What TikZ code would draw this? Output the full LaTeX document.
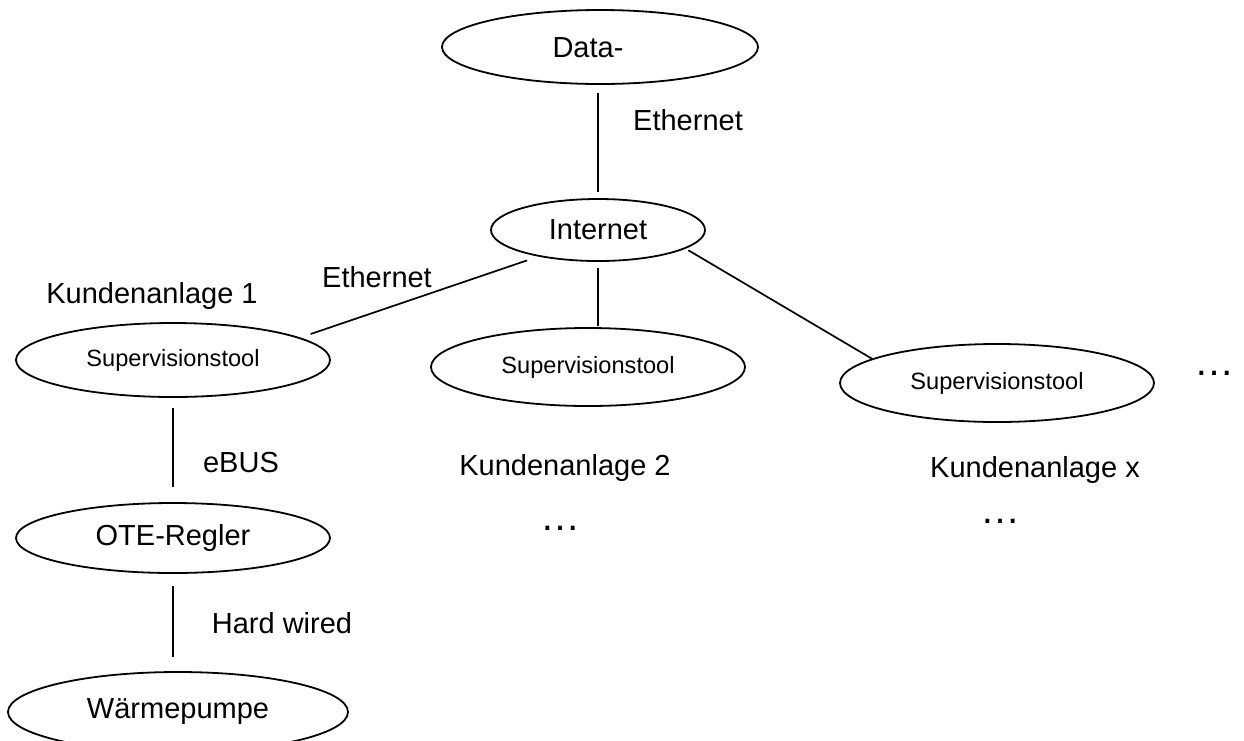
\documentclass[tikz,border=0pt]{standalone}
\usepackage{fontspec}
\setmainfont{Liberation Sans}
\usetikzlibrary{shapes.geometric}
\begin{document}
\begin{tikzpicture}[x=1pt,y=-1pt,
  bubble/.style={ellipse, draw, line width=1.8pt, inner sep=0pt, font=\fontsize{29}{34}\selectfont},
  small/.style={font=\fontsize{23.6}{28}\selectfont},
  lbl/.style={inner sep=0pt, anchor=base, font=\fontsize{29}{34}\selectfont},
  dots/.style={inner sep=0pt, anchor=base, font=\fontsize{40}{44}\selectfont},
  wire/.style={line width=1.7pt}]
\clip (0,0) rectangle (1244,740);
% ellipses
\node[bubble, minimum width=316pt, minimum height=74pt] (data) at (600,47) {};
\node[lbl] (datatxt) at (588,57) {Data-};
\node[bubble, minimum width=214pt, minimum height=62pt] (internet) at (598,230) {Internet};
\node[bubble, small, minimum width=314pt, minimum height=74pt] (sup1) at (173,360) {Supervisionstool};
\node[bubble, small, minimum width=314pt, minimum height=78pt] (sup2) at (588,367) {Supervisionstool};
\node[bubble, small, minimum width=314pt, minimum height=78pt] (sup3) at (997,383) {Supervisionstool};
\node[bubble, minimum width=314pt, minimum height=70pt] (ote) at (173,538) {OTE-Regler};
\node[bubble, minimum width=340pt, minimum height=80pt] (wp) at (178,712) {Wärmepumpe};
% connectors
\draw[wire, shorten <=8pt, shorten >=6pt] (data.south -| internet.north) -- (internet.north);
\draw[wire, shorten <=11.8pt, shorten >=11pt] (internet.204.8) -- (sup1.10.2);
\draw[wire, shorten <=6pt, shorten >=1pt] (internet.south) -- (internet.south |- sup2.north);
\draw[wire, shorten <=3.2pt] (internet.-12) -- (sup3.169.3);
\draw[wire, shorten <=10pt, shorten >=15pt] (sup1.south) -- (ote.north);
\draw[wire, shorten <=12pt, shorten >=14pt] (ote.south) -- (ote.south |- wp.north);
% labels
\node[lbl] (eth1) at (688,130) {Ethernet};
\node[lbl] (eth2) at (377,287) {Ethernet};
\node[lbl] (k1) at (152,303) {Kundenanlage 1};
\node[lbl] (k2) at (565,475) {Kundenanlage 2};
\node[lbl] (kx) at (1035,477) {Kundenanlage x};
\node[lbl] (ebus) at (241,472) {eBUS};
\node[lbl] (hw) at (282,633) {Hard wired};
\node[dots] (dots1) at (1214,375) {…};
\node[dots] (dots2) at (560,530) {…};
\node[dots] (dots3) at (1000,523) {…};
\end{tikzpicture}
\end{document}
